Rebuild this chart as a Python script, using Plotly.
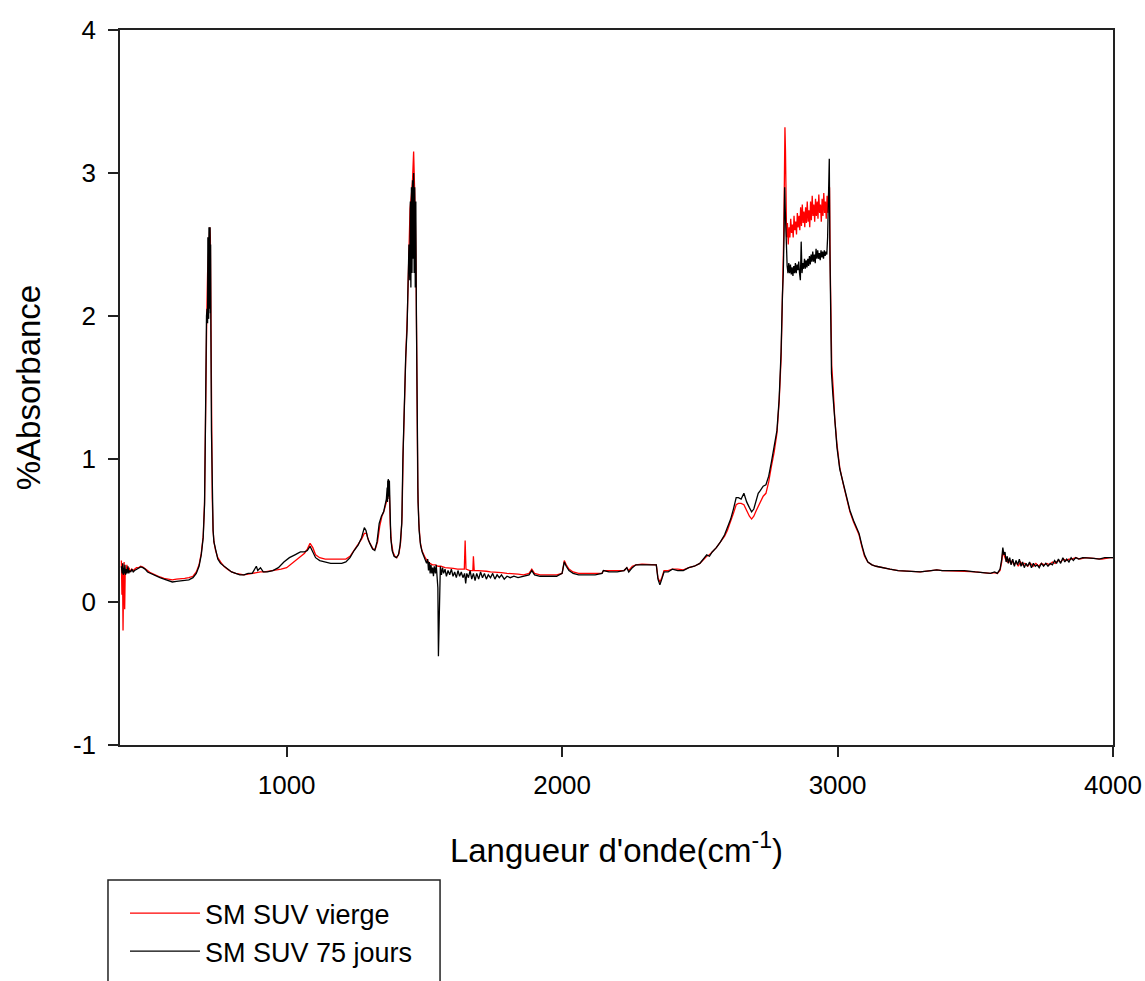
import plotly.graph_objects as go

# ---------------- data ----------------
x_75 = [400, 403, 405, 407, 409, 411, 413, 415, 418, 421, 424, 427, 430, 434, 438, 443, 448, 455, 462, 470,
        478, 486, 495, 505, 515, 528, 540, 555, 570, 585, 600, 615, 630, 645, 660, 672, 682, 690, 697, 702,
        705, 707, 709, 711, 712, 713, 714, 715, 716, 717, 718, 719, 720, 721, 722, 723, 724, 725, 727, 730,
        733, 736, 742, 750, 760, 772, 785, 800, 815, 830, 845, 860, 875, 885, 890, 895, 905, 915, 930, 950,
        970, 990, 1010, 1030, 1050, 1065, 1075, 1085, 1095, 1105, 1120, 1140, 1160, 1180, 1200, 1215, 1230,
        1245, 1260, 1272, 1282, 1288, 1294, 1302, 1312, 1320, 1328, 1336, 1344, 1352, 1358, 1362, 1365, 1366,
        1367, 1368, 1369, 1370, 1371, 1372, 1373, 1375, 1378, 1383, 1390, 1398, 1406, 1412, 1418, 1422, 1427,
        1432, 1437, 1441, 1444, 1447, 1449, 1451, 1453, 1455, 1457, 1459, 1461, 1463, 1465, 1467, 1469, 1471,
        1474, 1477, 1481, 1486, 1492, 1498, 1503, 1508, 1512, 1515, 1518, 1521, 1524, 1527, 1530, 1533, 1536,
        1540, 1543, 1546, 1549, 1551, 1553, 1555, 1558, 1562, 1566, 1570, 1575, 1580, 1586, 1592, 1598, 1604,
        1610, 1616, 1622, 1628, 1634, 1640, 1646, 1650, 1654, 1660, 1666, 1672, 1678, 1684, 1690, 1697, 1704,
        1711, 1718, 1725, 1732, 1740, 1748, 1756, 1764, 1772, 1780, 1790, 1800, 1812, 1825, 1840, 1860, 1880,
        1890, 1900, 1920, 1950, 1980, 2000, 2008, 2015, 2025, 2040, 2060, 2090, 2120, 2145, 2150, 2170, 2200,
        2225, 2235, 2242, 2255, 2268, 2290, 2320, 2342, 2348, 2355, 2362, 2370, 2385, 2400, 2420, 2440, 2460,
        2480, 2500, 2515, 2525, 2535, 2545, 2560, 2575, 2590, 2600, 2612, 2622, 2632, 2640, 2650, 2660, 2670,
        2680, 2688, 2696, 2705, 2712, 2720, 2730, 2740, 2750, 2760, 2770, 2780, 2788, 2795, 2800, 2803, 2806,
        2808, 2810, 2812, 2814, 2817, 2820, 2823, 2826, 2829, 2832, 2835, 2838, 2841, 2844, 2847, 2850, 2853,
        2856, 2859, 2862, 2865, 2868, 2871, 2874, 2877, 2880, 2883, 2886, 2889, 2892, 2895, 2898, 2901, 2904,
        2907, 2910, 2913, 2916, 2919, 2922, 2925, 2928, 2931, 2934, 2937, 2940, 2943, 2946, 2949, 2952, 2955,
        2958, 2961, 2964, 2967, 2970, 2972, 2975, 2978, 2983, 2990, 2998, 3008, 3020, 3032, 3045, 3058, 3068,
        3078, 3088, 3098, 3110, 3125, 3140, 3160, 3190, 3220, 3260, 3300, 3340, 3360, 3380, 3420, 3460, 3500,
        3530, 3555, 3570, 3580, 3590, 3596, 3600, 3604, 3608, 3612, 3616, 3620, 3625, 3630, 3636, 3642, 3648,
        3654, 3660, 3666, 3672, 3678, 3684, 3690, 3697, 3704, 3711, 3718, 3725, 3732, 3740, 3748, 3756, 3764,
        3772, 3780, 3788, 3795, 3802, 3810, 3818, 3825, 3832, 3840, 3848, 3856, 3865, 3875, 3890, 3910, 3930,
        3950, 3970, 3990, 4000]
y_75 = [0.25, 0.2, 0.27, 0.19, 0.24, 0.2, 0.26, 0.19, 0.23, 0.2, 0.25, 0.2, 0.22, 0.21, 0.23, 0.21, 0.22, 0.23, 0.24, 0.245,
        0.24, 0.23, 0.21, 0.2, 0.19, 0.18, 0.17, 0.16, 0.15, 0.14, 0.145, 0.15, 0.15, 0.155, 0.17, 0.2, 0.25, 0.33, 0.45, 0.68,
        1.2, 1.95, 2.0, 2.05, 2.4, 1.95, 2.55, 2.0, 2.6, 1.98, 2.62, 2.05, 2.58, 2.1, 2.62, 2.02, 2.5, 1.9, 1.2, 0.7,
        0.5, 0.42, 0.36, 0.3, 0.27, 0.25, 0.23, 0.21, 0.2, 0.19, 0.19, 0.2, 0.2, 0.23, 0.25, 0.22, 0.24, 0.21, 0.21, 0.22,
        0.24, 0.28, 0.31, 0.33, 0.35, 0.35, 0.36, 0.39, 0.35, 0.31, 0.29, 0.28, 0.27, 0.27, 0.27, 0.28, 0.31,
        0.36, 0.4, 0.45, 0.52, 0.5, 0.45, 0.41, 0.37, 0.36, 0.42, 0.55, 0.6, 0.63, 0.68, 0.72, 0.8, 0.7,
        0.85, 0.72, 0.86, 0.74, 0.86, 0.75, 0.85, 0.6, 0.45, 0.36, 0.32, 0.31, 0.33, 0.4, 0.55, 1.0, 1.4,
        1.7, 1.9, 2.3, 2.5, 2.25, 2.8, 2.2, 2.9, 2.3, 2.95, 2.4, 3.0, 2.3, 2.9, 2.2, 2.8, 2.0,
        1.1, 0.7, 0.5, 0.4, 0.35, 0.32, 0.3, 0.27, 0.3, 0.22, 0.28, 0.2, 0.26, 0.2, 0.24, 0.18, 0.25,
        0.2, 0.26, 0.2, 0.1, -0.38, -0.1, 0.2, 0.25, 0.19, 0.24, 0.2, 0.23, 0.18, 0.22, 0.19, 0.23, 0.18,
        0.21, 0.17, 0.22, 0.18, 0.21, 0.17, 0.2, 0.13, 0.2, 0.17, 0.22, 0.16, 0.2, 0.15, 0.2, 0.16, 0.21,
        0.17, 0.2, 0.16, 0.19, 0.17, 0.2, 0.16, 0.19, 0.17, 0.19, 0.16, 0.18, 0.17, 0.18, 0.17, 0.18, 0.19,
        0.22, 0.19, 0.18, 0.18, 0.18, 0.2, 0.28, 0.25, 0.22, 0.2, 0.19, 0.19, 0.19, 0.2, 0.22, 0.21, 0.21,
        0.22, 0.24, 0.21, 0.24, 0.26, 0.26, 0.26, 0.26, 0.16, 0.12, 0.16, 0.21, 0.21, 0.23, 0.22, 0.22, 0.24,
        0.25, 0.27, 0.31, 0.33, 0.32, 0.35, 0.38, 0.42, 0.47, 0.52, 0.58, 0.65, 0.73, 0.73, 0.72, 0.76, 0.7,
        0.66, 0.63, 0.65, 0.71, 0.76, 0.78, 0.81, 0.82, 0.88, 0.98, 1.08, 1.2, 1.42, 1.75, 2.15, 2.3, 2.6,
        2.9, 2.75, 2.6, 2.45, 2.35, 2.3, 2.37, 2.3, 2.36, 2.29, 2.34, 2.28, 2.35, 2.3, 2.37, 2.3, 2.36,
        2.32, 2.38, 2.3, 2.25, 2.52, 2.3, 2.37, 2.33, 2.4, 2.33, 2.39, 2.34, 2.4, 2.35, 2.42, 2.36, 2.43,
        2.38, 2.45, 2.38, 2.43, 2.37, 2.47, 2.4, 2.46, 2.4, 2.44, 2.39, 2.46, 2.41, 2.45, 2.4, 2.46, 2.42,
        2.45, 2.43, 2.55, 2.8, 3.1, 2.5, 2.0, 1.6, 1.45, 1.25, 1.08, 0.93, 0.83, 0.74, 0.64, 0.57, 0.52,
        0.48, 0.4, 0.33, 0.28, 0.26, 0.25, 0.24, 0.23, 0.22, 0.215, 0.21, 0.22, 0.225, 0.22, 0.22, 0.22, 0.21,
        0.205, 0.2, 0.21, 0.2, 0.23, 0.3, 0.38, 0.33, 0.35, 0.28, 0.32, 0.27, 0.31, 0.26, 0.3, 0.25, 0.29,
        0.26, 0.3, 0.25, 0.28, 0.24, 0.27, 0.25, 0.28, 0.24, 0.27, 0.25, 0.26, 0.24, 0.27, 0.25, 0.27, 0.25,
        0.27, 0.26, 0.29, 0.27, 0.3, 0.27, 0.31, 0.28, 0.3, 0.28, 0.31, 0.29, 0.31, 0.3, 0.31, 0.31, 0.305,
        0.3, 0.31, 0.31, 0.31]

x_vierge = [400, 402, 404, 406, 408, 410, 412, 414, 417, 420, 424, 428, 432, 437, 442, 448, 455, 462, 470, 478,
            486, 495, 505, 515, 528, 540, 555, 570, 585, 600, 615, 630, 645, 660, 672, 682, 690, 697, 702, 705,
            707, 710, 713, 716, 719, 721, 723, 725, 727, 730, 733, 736, 742, 750, 760, 772, 785, 800, 815, 830,
            845, 860, 875, 890, 905, 920, 940, 960, 980, 1000, 1020, 1040, 1055, 1065, 1075, 1085, 1095, 1105,
            1120, 1140, 1160, 1180, 1200, 1215, 1230, 1245, 1260, 1272, 1282, 1290, 1297, 1305, 1314, 1322, 1330,
            1338, 1346, 1354, 1360, 1365, 1370, 1373, 1376, 1380, 1386, 1393, 1400, 1408, 1414, 1419, 1423, 1428,
            1433, 1438, 1443, 1448, 1453, 1457, 1461, 1464, 1467, 1470, 1473, 1476, 1480, 1485, 1491, 1497, 1503,
            1510, 1520, 1530, 1540, 1550, 1560, 1575, 1590, 1605, 1620, 1635, 1645, 1648, 1651, 1665, 1676, 1678,
            1681, 1695, 1710, 1725, 1740, 1760, 1780, 1800, 1820, 1840, 1860, 1880, 1890, 1900, 1920, 1950, 1980,
            2000, 2008, 2015, 2025, 2040, 2060, 2090, 2120, 2145, 2150, 2170, 2200, 2225, 2235, 2242, 2255, 2268,
            2290, 2320, 2342, 2348, 2355, 2362, 2370, 2385, 2400, 2420, 2440, 2460, 2480, 2500, 2515, 2525, 2535,
            2545, 2560, 2575, 2590, 2600, 2612, 2622, 2632, 2640, 2650, 2660, 2670, 2680, 2688, 2696, 2705, 2712,
            2720, 2730, 2740, 2750, 2760, 2770, 2780, 2788, 2795, 2800, 2804, 2807, 2809, 2811, 2813, 2815, 2818,
            2821, 2824, 2827, 2830, 2833, 2836, 2839, 2842, 2845, 2848, 2851, 2854, 2857, 2860, 2863, 2866, 2869,
            2872, 2875, 2878, 2881, 2884, 2887, 2890, 2893, 2896, 2899, 2902, 2905, 2908, 2911, 2914, 2917, 2920,
            2923, 2926, 2929, 2932, 2935, 2938, 2941, 2944, 2947, 2950, 2953, 2956, 2959, 2962, 2965, 2968, 2971,
            2973, 2976, 2979, 2984, 2990, 2998, 3008, 3020, 3032, 3045, 3058, 3068, 3078, 3088, 3098, 3110, 3125,
            3140, 3160, 3190, 3220, 3260, 3300, 3340, 3360, 3380, 3420, 3460, 3500, 3530, 3555, 3570, 3580, 3590,
            3596, 3600, 3605, 3610, 3616, 3622, 3628, 3634, 3640, 3648, 3656, 3664, 3672, 3680, 3690, 3700, 3710,
            3720, 3730, 3740, 3750, 3760, 3770, 3780, 3790, 3800, 3810, 3820, 3830, 3840, 3850, 3865, 3880, 3900,
            3930, 3960, 3990, 4000]
y_vierge = [0.29, 0.05, 0.27, -0.2, 0.15, 0.28, -0.05, 0.22, 0.2, 0.26, 0.21, 0.24, 0.21, 0.23, 0.22, 0.23, 0.24, 0.24, 0.25, 0.245,
            0.235, 0.22, 0.205, 0.195, 0.185, 0.175, 0.165, 0.16, 0.155, 0.16, 0.16, 0.165, 0.17, 0.18, 0.21, 0.26, 0.34, 0.46, 0.7, 1.2,
            1.9, 2.0, 2.3, 2.45, 2.6, 2.62, 2.55, 1.95, 1.2, 0.72, 0.5, 0.42, 0.36, 0.31, 0.28, 0.25, 0.23, 0.21, 0.2, 0.195,
            0.19, 0.195, 0.2, 0.21, 0.21, 0.21, 0.215, 0.22, 0.23, 0.24, 0.27, 0.3, 0.32, 0.34, 0.37, 0.41, 0.38, 0.33,
            0.31, 0.3, 0.3, 0.3, 0.3, 0.3, 0.32, 0.36, 0.4, 0.44, 0.48, 0.48, 0.43, 0.4, 0.37, 0.37, 0.42,
            0.53, 0.6, 0.64, 0.68, 0.72, 0.77, 0.75, 0.55, 0.42, 0.35, 0.32, 0.31, 0.34, 0.42, 0.6, 1.05, 1.45,
            1.75, 2.0, 2.4, 2.75, 2.85, 2.95, 3.15, 2.95, 2.7, 2.3, 1.4, 0.8, 0.55, 0.42, 0.36, 0.33, 0.31,
            0.29, 0.27, 0.26, 0.26, 0.25, 0.25, 0.24, 0.24, 0.235, 0.23, 0.23, 0.23, 0.43, 0.23, 0.22, 0.22, 0.32,
            0.22, 0.22, 0.22, 0.215, 0.21, 0.21, 0.205, 0.2, 0.2, 0.195, 0.19, 0.2, 0.23, 0.2, 0.19, 0.19, 0.19,
            0.2, 0.29, 0.26, 0.23, 0.21, 0.2, 0.2, 0.2, 0.2, 0.22, 0.22, 0.22, 0.22, 0.24, 0.22, 0.25, 0.26,
            0.265, 0.265, 0.26, 0.17, 0.14, 0.17, 0.22, 0.22, 0.23, 0.23, 0.225, 0.24, 0.25, 0.27, 0.3, 0.32, 0.33,
            0.35, 0.38, 0.42, 0.46, 0.5, 0.56, 0.62, 0.68, 0.69, 0.69, 0.68, 0.64, 0.6, 0.58, 0.6, 0.64, 0.67,
            0.7, 0.74, 0.76, 0.84, 0.95, 1.05, 1.18, 1.4, 1.7, 2.1, 2.5, 2.95, 3.32, 3.15, 2.8, 2.55, 2.65,
            2.5, 2.62, 2.55, 2.68, 2.58, 2.64, 2.55, 2.7, 2.6, 2.66, 2.57, 2.72, 2.62, 2.7, 2.6, 2.76, 2.63,
            2.78, 2.65, 2.73, 2.62, 2.76, 2.65, 2.8, 2.66, 2.74, 2.62, 2.8, 2.67, 2.84, 2.7, 2.78, 2.66, 2.82,
            2.7, 2.8, 2.68, 2.85, 2.72, 2.78, 2.66, 2.82, 2.7, 2.86, 2.72, 2.8, 2.68, 2.84, 2.72, 2.88, 2.9,
            2.4, 1.95, 1.65, 1.5, 1.28, 1.1, 0.94, 0.83, 0.73, 0.63, 0.56, 0.51, 0.47, 0.39, 0.32, 0.28, 0.26,
            0.25, 0.24, 0.23, 0.22, 0.215, 0.21, 0.22, 0.225, 0.22, 0.22, 0.215, 0.21, 0.205, 0.2, 0.205, 0.2, 0.22,
            0.28, 0.35, 0.32, 0.3, 0.28, 0.3, 0.27, 0.29, 0.26, 0.28, 0.25, 0.28, 0.26, 0.27, 0.25, 0.27, 0.25,
            0.27, 0.25, 0.27, 0.26, 0.27, 0.26, 0.28, 0.27, 0.29, 0.28, 0.3, 0.29, 0.3, 0.3, 0.31, 0.3, 0.31,
            0.305, 0.3, 0.31, 0.31]

series_names = ["SM SUV vierge", "SM SUV 75 jours"]
x_ticks = [1000, 2000, 3000, 4000]
y_ticks = [-1, 0, 1, 2, 3, 4]
y_tick_text = ["-1", "0", "1", "2", "3", "4"]

FONT = "Liberation Sans, Arial, sans-serif"

fig = go.Figure()
fig.add_trace(go.Scatter(x=x_vierge, y=y_vierge, mode="lines", name=series_names[0],
                         line=dict(color="#ff0000", width=1.3), legendgroup="a"))
fig.add_trace(go.Scatter(x=x_75, y=y_75, mode="lines", name=series_names[1],
                         line=dict(color="#000000", width=1.3), legendgroup="b"))

FIG_W, FIG_H = 1145, 981
fig.update_layout(
    width=FIG_W, height=FIG_H,
    margin=dict(l=120, r=32, t=30, b=236, autoexpand=False),
    paper_bgcolor="white", plot_bgcolor="white",
    font=dict(family=FONT, color="black", size=26),
    showlegend=True,
    legend=dict(x=0.005, y=-0.2014, xanchor="left", yanchor="top",
                bgcolor="rgba(0,0,0,0)", borderwidth=0,
                font=dict(family=FONT, size=27, color="black"),
                tracegroupgap=0, traceorder="grouped", itemwidth=70),
    xaxis=dict(range=[395, 4000], tickvals=x_ticks, ticks="outside", ticklen=10, tickwidth=1.5,
               tickcolor="#222", showline=True, linecolor="#222", linewidth=1.5, mirror=True,
               showgrid=False, zeroline=False, ticklabelstandoff=6, automargin=False,
               tickfont=dict(family=FONT, size=26, color="black"),
               title=dict(text="Langueur d'onde(cm<sup>-1</sup>)", standoff=40,
                          font=dict(family=FONT, size=33, color="black"))),
    yaxis=dict(range=[-1, 4], tickvals=y_ticks, ticktext=y_tick_text, ticks="outside", ticklen=10,
               tickwidth=1.5, tickcolor="#222", showline=True, linecolor="#222", linewidth=1.5,
               mirror=True, showgrid=False, zeroline=False, ticklabelstandoff=7, automargin=True,
               tickfont=dict(family=FONT, size=26, color="black"),
               title=dict(text="%Absorbance", standoff=22,
                          font=dict(family=FONT, size=33, color="black"))),
    shapes=[dict(type="rect", xref="paper", yref="paper",
                 x0=-0.0121, x1=0.3223, y0=-0.40, y1=-0.1888,
                 line=dict(color="#222", width=1.5), fillcolor="rgba(0,0,0,0)", layer="above")],
)

fig.write_html("out.html", config={"displayModeBar": False},
               post_script="document.body.style.margin='0';document.body.style.overflow='hidden';")
